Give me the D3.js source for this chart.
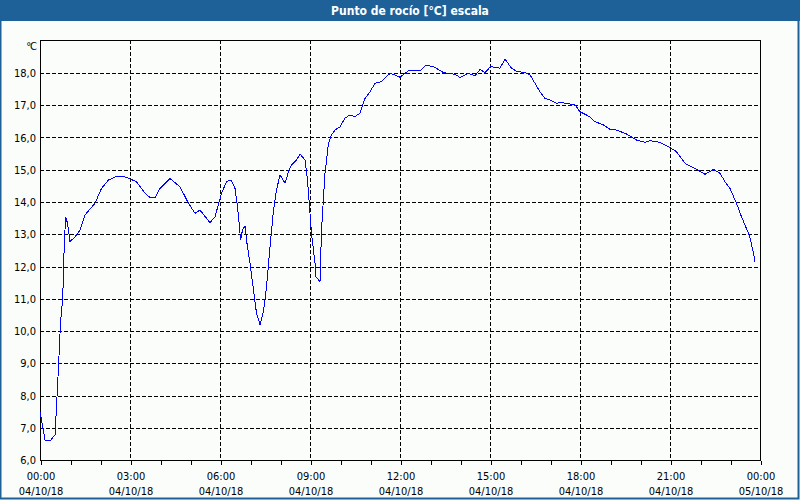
<!DOCTYPE html>
<html>
<head>
<meta charset="utf-8">
<script src="https://cdn.jsdelivr.net/npm/d3@7"></script>
<style>
  html, body { margin: 0; padding: 0; background: #fbfdfb; }
  svg { display: block; }
  text { font-family: "DejaVu Sans Condensed", "DejaVu Sans", sans-serif; font-stretch: condensed; }
</style>
</head>
<body>
<svg id="chart" width="800" height="500"></svg>
<script>
const title = "Punto de rocío [°C] escala";
const unitLabel = "°C";
const day = "2018-10-04";
// minutes after 00:00 of 04/10/18
const minutes = [0,10,20,30,33,37,41,45,47,48,50,51,55,57,60,70,80,90,110,123,137,153,170,193,210,220,230,240,260,280,297,310,320,340,350,363,373,382,390,395,399,401,405,410,413,420,427,433,440,447,453,460,467,473,480,490,497,503,513,520,530,535,539,543,550,552,560,563,570,577,583,590,600,610,620,630,640,650,660,670,683,700,710,720,737,760,772,787,807,830,840,857,870,880,890,901,920,930,943,953,970,980,990,1000,1010,1020,1033,1040,1053,1070,1080,1100,1110,1127,1140,1153,1173,1193,1210,1220,1240,1260,1273,1290,1310,1330,1347,1360,1370,1380,1393,1403,1417,1421,1427,1430];
const dewPoint = [7.5,6.62,6.59,6.78,7.65,8.89,10.25,10.96,11.68,12.4,13.13,13.54,13.35,13.13,12.77,12.92,13.13,13.6,13.96,14.42,14.68,14.8,14.78,14.63,14.27,14.14,14.14,14.42,14.73,14.47,13.96,13.65,13.75,13.36,13.54,14.27,14.63,14.68,14.42,13.85,13.23,12.82,13.13,13.26,12.82,12.1,11.27,10.55,10.2,10.6,11.37,12.61,13.75,14.37,14.84,14.58,14.94,15.15,15.3,15.49,15.3,14.68,13.85,13.03,12.1,11.68,11.53,13.13,14.89,15.82,16.08,16.23,16.33,16.6,16.7,16.65,16.75,17.21,17.42,17.68,17.73,17.99,17.94,17.87,18.07,18.07,18.24,18.2,18.01,17.96,17.86,17.99,17.91,18.11,18.01,18.2,18.15,18.43,18.15,18.05,18.01,17.94,17.68,17.42,17.21,17.16,17.06,17.09,17.06,17.01,16.8,16.64,16.49,16.39,16.25,16.23,16.11,15.92,15.85,15.9,15.85,15.69,15.56,15.2,15.04,14.86,15.01,14.89,14.63,14.42,13.96,13.54,13.03,12.82,12.41,12.15];
const yTicks = [6,7,8,9,10,11,12,13,14,15,16,17,18];
const xMajorHours = [0,3,6,9,12,15,18,21,24];

const svg = d3.select("#chart");
const W = 800, H = 500;
const plot = {left: 40, top: 40, right: 760, bottom: 460};

// window frame & title bar
svg.append("rect").attr("x", 0).attr("y", 0).attr("width", W).attr("height", H).attr("fill", "#fbfdfb");
svg.append("rect").attr("x", 0).attr("y", 0).attr("width", W).attr("height", 21).attr("fill", "#1e6198");
svg.append("rect").attr("x", 0.5).attr("y", 0.5).attr("width", W - 2).attr("height", H - 2)
  .attr("fill", "none").attr("stroke", "#1e6198").attr("stroke-width", 2);
svg.append("text").attr("x", 410).attr("y", 15).attr("text-anchor", "middle")
  .attr("fill", "#ffffff").attr("font-weight", "bold").attr("font-size", "12px").text(title);

const t0 = new Date(day + "T00:00:00");
const toDate = m => new Date(t0.getTime() + m * 60000);
const x = d3.scaleTime().domain([t0, toDate(1440)]).range([plot.left, plot.right]);
const y = d3.scaleLinear().domain([6, 18]).range([plot.bottom, 73]);

const g = svg.append("g");

// grid
const crisp = v => Math.round(v) + 0.5;
g.selectAll(".hgrid").data(yTicks.filter(v => v > 6)).enter().append("line")
  .attr("x1", plot.left).attr("x2", plot.right)
  .attr("y1", d => crisp(y(d))).attr("y2", d => crisp(y(d)))
  .attr("stroke", "#000").attr("stroke-dasharray", "4,2").attr("shape-rendering", "crispEdges");
g.selectAll(".vgrid").data(xMajorHours.filter(h => h > 0 && h < 24)).enter().append("line")
  .attr("x1", d => crisp(x(toDate(d * 60)))).attr("x2", d => crisp(x(toDate(d * 60))))
  .attr("y1", plot.top).attr("y2", plot.bottom)
  .attr("stroke", "#000").attr("stroke-dasharray", "4,2").attr("shape-rendering", "crispEdges");

// frame
g.append("rect").attr("x", plot.left + 0.5).attr("y", plot.top + 0.5)
  .attr("width", plot.right - plot.left).attr("height", plot.bottom - plot.top)
  .attr("fill", "none").attr("stroke", "#000").attr("shape-rendering", "crispEdges");

// x axis ticks (hourly) and labels
const xAxis = d3.axisBottom(x).ticks(d3.timeHour.every(1)).tickSize(4).tickFormat("");
const xa = g.append("g").attr("transform", `translate(0.5,${plot.bottom + 0.5})`).call(xAxis);
xa.select(".domain").remove();
xa.selectAll("line").attr("stroke", "#000").attr("shape-rendering", "crispEdges");

const fmtT = d3.timeFormat("%H:%M"), fmtD = d3.timeFormat("%d/%m/%y");
const xl = g.selectAll(".xlab").data(xMajorHours).enter().append("g")
  .attr("transform", h => `translate(${x(toDate(h * 60)) + 1},0)`);
xl.append("text").attr("y", 480).attr("text-anchor", "middle").attr("font-size", "11px").attr("fill", "#000")
  .text(h => fmtT(toDate(h * 60)));
xl.append("text").attr("y", 495).attr("text-anchor", "middle").attr("font-size", "11px").attr("fill", "#000")
  .text(h => fmtD(toDate(h * 60)));

// y labels
const yAxis = d3.axisLeft(y).tickValues(yTicks).tickSize(0).tickPadding(4)
  .tickFormat(v => d3.format(".1f")(v).replace(".", ","));
const ya = g.append("g").attr("transform", `translate(${plot.left},0)`).call(yAxis);
ya.select(".domain").remove();
ya.selectAll("text").attr("font-size", "11px").attr("fill", "#000").attr("font-family", null);
svg.append("text").attr("x", 36).attr("y", 50).attr("text-anchor", "end").attr("font-size", "11px").attr("letter-spacing", "-1px").text(unitLabel);

// line
const line = d3.line().x((d, i) => x(toDate(minutes[i]))).y(d => y(d));
g.append("path").datum(dewPoint).attr("d", line)
  .attr("fill", "none").attr("stroke", "#0000ff").attr("stroke-width", 1)
  .attr("shape-rendering", "crispEdges");
</script>
</body>
</html>
